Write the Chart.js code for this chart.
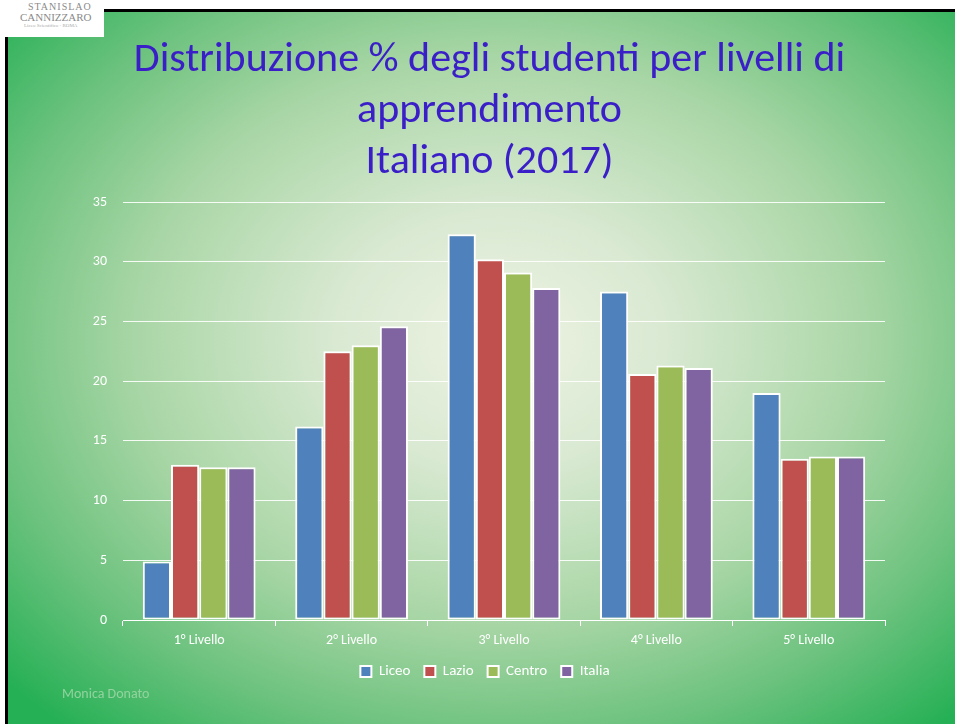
<!DOCTYPE html>
<html lang="it">
  <head>
    <meta charset="UTF-8" />
    <title>Distribuzione % degli studenti per livelli di apprendimento</title>
    <script src="https://cdn.jsdelivr.net/npm/chart.js"></script>
    <style>
      * {
        margin: 0;
        padding: 0;
        box-sizing: border-box;
      }
      body {
        width: 955px;
        height: 724px;
        overflow: hidden;
        background: #ffffff;
        font-family: Carlito, Lato, "Open Sans", sans-serif;
        position: relative;
      }
      .slide {
        position: absolute;
        left: 5px;
        top: 9px;
        right: 0;
        bottom: 0;
        border-left: 3px solid #000;
        border-top: 3px solid #000;
        background: radial-gradient(
          ellipse 70% 72% at 52% 46%,
          #eef3e3 0%,
          #d9e9d2 25%,
          #a9d6a6 55%,
          #6cc27e 78%,
          #26b055 100%
        );
      }
      .logo {
        position: absolute;
        left: 0;
        top: 0;
        width: 104px;
        height: 37px;
        background: #fff;
        color: #8a8a8a;
        font-family: "Liberation Serif", serif;
        line-height: 1;
        padding: 2px 0 0 6px;
        z-index: 3;
      }
      .logo .l1 {
        font-size: 10px;
        letter-spacing: 1px;
        padding-left: 22px;
      }
      .logo .l2 {
        font-size: 11px;
        padding-left: 14px;
      }
      .logo .l3 {
        font-size: 5px;
        padding-left: 18px;
        color: #aaa;
      }
      .title {
        position: absolute;
        left: 12px;
        width: 955px;
        top: 31px;
        text-align: center;
        color: #3a1fc8;
        font-size: 42px;
        line-height: 51px;
        z-index: 2;
      }
      .footer {
        position: absolute;
        left: 62px;
        top: 685px;
        color: #93d39f;
        font-size: 14px;
        z-index: 2;
      }
      canvas {
        position: absolute;
        left: 0;
        top: 0;
        z-index: 1;
      }
    </style>
  </head>
  <body>
    <div class="slide"></div>
    <div class="logo">
      <div class="l1">STANISLAO</div>
      <div class="l2">CANNIZZARO</div>
      <div class="l3">Liceo Scientifico - ROMA</div>
    </div>
    <div class="title">
      Distribuzione % degli studenti per livelli di<br />apprendimento<br />Italiano (2017)
    </div>
    <div class="footer">Monica Donato</div>
    <canvas id="chart" width="955" height="724"></canvas>

    <script>
      const livelli = ["1° Livello", "2° Livello", "3° Livello", "4° Livello", "5° Livello"];
      const liceo = [4.9, 16.2, 32.3, 27.5, 19.0];
      const lazio = [13.0, 22.5, 30.2, 20.6, 13.5];
      const centro = [12.8, 23.0, 29.1, 21.3, 13.7];
      const italia = [12.8, 24.6, 27.8, 21.1, 13.7];
      const yTicks = [0, 5, 10, 15, 20, 25, 30, 35];

      const fontFam = "Carlito, Lato, 'Open Sans', sans-serif";

      function serie(label, data, color) {
        return {
          label: label,
          data: data,
          backgroundColor: color,
          borderColor: "#ffffff",
          borderWidth: 2,
          borderSkipped: false,
          categoryPercentage: 0.74,
          barPercentage: 1.0,
        };
      }

      new Chart(document.getElementById("chart"), {
        type: "bar",
        data: {
          labels: livelli,
          datasets: [
            serie("Liceo", liceo, "#4f81bd"),
            serie("Lazio", lazio, "#c0504d"),
            serie("Centro", centro, "#9bbb59"),
            serie("Italia", italia, "#8064a2"),
          ],
        },
        options: {
          responsive: false,
          animation: false,
          layout: {
            padding: { left: 85, right: 70, top: 202, bottom: 35 },
          },
          scales: {
            x: {
              grid: {
                offset: true,
                drawOnChartArea: false,
                drawTicks: true,
                tickLength: 6,
                color: "#ffffff",
              },
              border: { display: true, color: "#ffffff", width: 1 },
              ticks: {
                color: "#ffffff",
                font: { family: fontFam, size: 14 },
                padding: 6,
              },
              afterFit: function (axis) {
                axis.height = 30;
              },
            },
            y: {
              min: 0,
              max: 35,
              afterBuildTicks: function (axis) {
                axis.ticks = yTicks.map((v) => ({ value: v }));
              },
              grid: {
                drawTicks: false,
                color: "rgba(255,255,255,0.9)",
                lineWidth: 1,
              },
              border: { display: false },
              ticks: {
                color: "#ffffff",
                font: { family: fontFam, size: 14 },
                padding: 16,
              },
              afterFit: function (axis) {
                axis.width = 38;
              },
            },
          },
          plugins: {
            legend: {
              position: "bottom",
              labels: {
                color: "#ffffff",
                font: { family: fontFam, size: 15 },
                boxWidth: 11,
                boxHeight: 11,
                padding: 14,
              },
            },
            tooltip: { enabled: false },
          },
        },
      });
    </script>
  </body>
</html>
